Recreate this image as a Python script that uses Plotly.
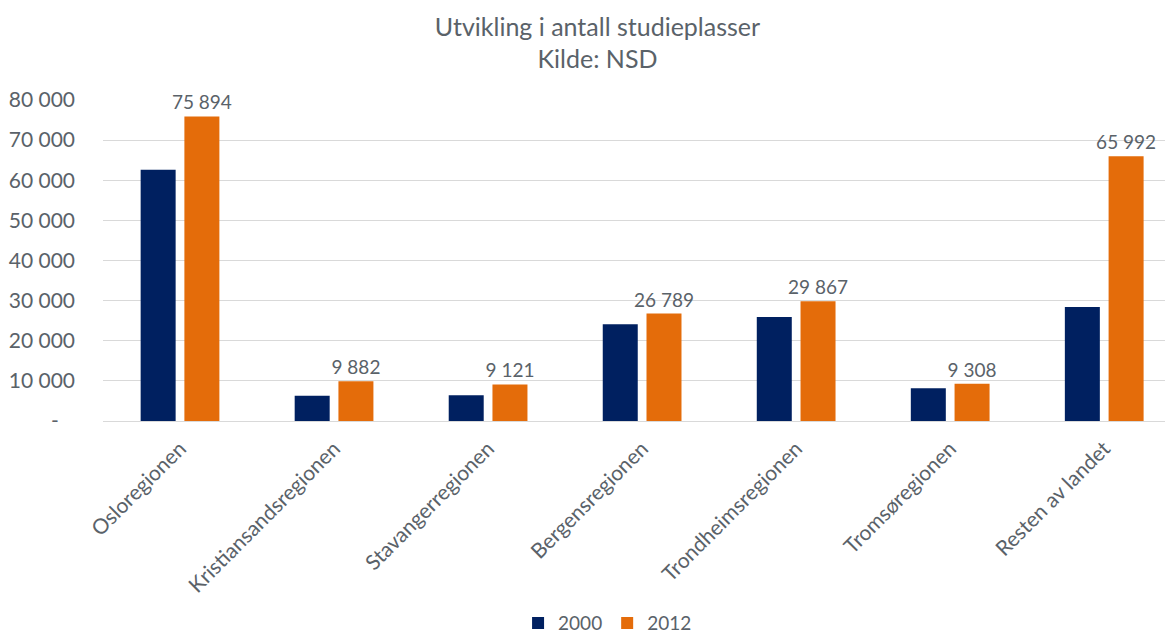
import plotly.graph_objects as go

regions = ["Osloregionen", "Kristiansandsregionen", "Stavangerregionen",
           "Bergensregionen", "Trondheimsregionen", "Tromsøregionen",
           "Resten av landet"]
values_2000 = [62600, 6300, 6400, 24100, 25900, 8150, 28400]
values_2012 = [75894, 9882, 9121, 26789, 29867, 9308, 65992]
tick_vals = [0, 10000, 20000, 30000, 40000, 50000, 60000, 70000, 80000]
tick_text = ["-&nbsp;&nbsp;&nbsp;", "10 000", "20 000", "30 000", "40 000",
             "50 000", "60 000", "70 000", "80 000"]

grey = "#5a6269"
font_family = "Lato, sans-serif"

fig = go.Figure()

# 2000 series, no labels
fig.add_trace(go.Bar(
    name="2000",
    x=regions,
    y=values_2000,
    marker=dict(color="#002060", line=dict(width=0)),
))

# 2012 series with data labels on top
fig.add_trace(go.Bar(
    name="2012",
    x=regions,
    y=values_2012,
    marker=dict(color="#E46C0A", line=dict(width=0)),
    texttemplate="%{y:,.0f}",
    textposition="outside",
    constraintext="none",
    textfont=dict(size=19, color=grey, family=font_family),
    cliponaxis=False,
))

# the page body adds an 8px margin, so the figure is made 8px smaller
fig.update_layout(
    width=1165,
    height=629,
    separators=", ",
    barmode="group",
    bargap=0.432,
    bargroupgap=0.2,
    plot_bgcolor="white",
    paper_bgcolor="white",
    font=dict(family=font_family, size=21, color=grey),
    title=dict(
        text="Utvikling i antall studieplasser<br>Kilde: NSD",
        x=0.506,
        xanchor="center",
        y=0.956,
        yanchor="middle",
        font=dict(size=25, color=grey, family=font_family),
    ),
    margin=dict(l=89, r=1, t=92, b=216),
    legend=dict(
        orientation="h",
        x=0.472,
        xanchor="center",
        yref="container",
        y=0.022,
        yanchor="middle",
        font=dict(size=19, color=grey),
        itemwidth=30,
        traceorder="normal",
    ),
    showlegend=True,
)

# chart area runs slightly past the right edge in the original
fig.update_xaxes(
    range=[-0.5, 6.44],
    tickangle=-45,
    tickfont=dict(size=21, color=grey),
    showgrid=False,
    showline=True,
    linecolor="#D9D9D9",
    ticks="",
    ticklabelstandoff=6,
)

fig.update_yaxes(
    range=[0, 80000],
    tickvals=tick_vals,
    ticktext=tick_text,
    tickfont=dict(size=21, color=grey),
    gridcolor="#D9D9D9",
    zeroline=False,
    showline=False,
    ticklabelstandoff=27,
)

fig.write_html("out.html")
